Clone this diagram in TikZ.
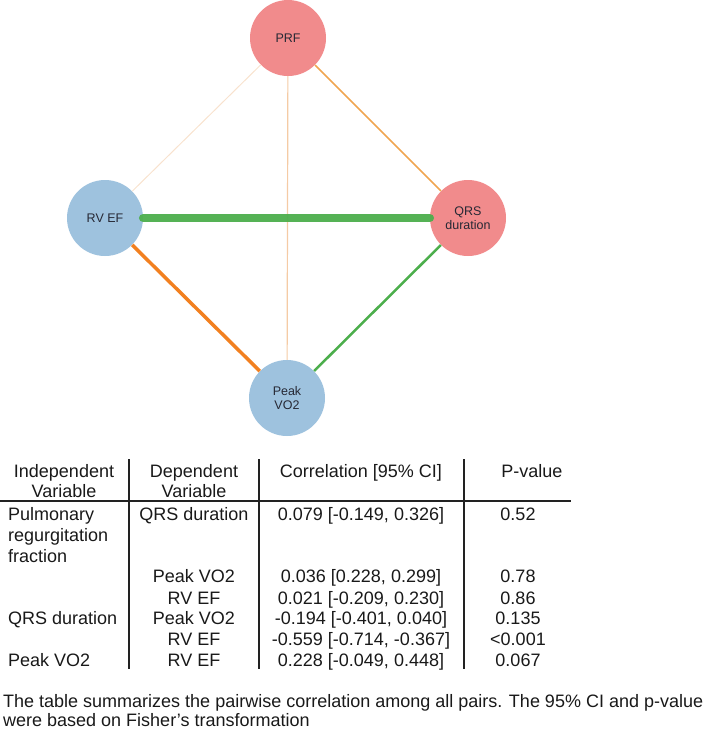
\documentclass[tikz,border=0pt]{standalone}
\usepackage{fontspec}
\setmainfont{Liberation Sans}
\definecolor{prfpink}{RGB}{241,139,140}
\definecolor{varblue}{RGB}{158,194,222}
\definecolor{labeltext}{RGB}{38,40,52}
\definecolor{corgreen}{RGB}{76,174,76}
\definecolor{corora}{RGB}{242,128,32}
\definecolor{midora}{RGB}{240,165,80}
\definecolor{paleora}{RGB}{245,203,165}
\definecolor{faintora}{RGB}{248,226,206}
\definecolor{rulegray}{RGB}{34,34,34}
\tikzset{var/.style={circle,minimum size=76pt,inner sep=0pt,text=labeltext,align=center,font=\fontsize{12.5}{14}\selectfont}}
\tikzset{cell/.style={anchor=base,inner sep=0pt,text=black!90,font=\fontsize{18}{20.8}\selectfont}}
\tikzset{rule/.style={line width=1.4pt,draw=rulegray}}

\begin{document}
\begin{tikzpicture}[x=1pt,y=-1pt]
\useasboundingbox (0,0) rectangle (709,732);
% variables
\node (prf) at (288,38) [var,fill=prfpink] {PRF};
\node (rvef) at (105,218) [var,fill=varblue] {RV EF};
\node (qrs) at (468,218) [var,fill=prfpink] {QRS\\duration};
\node (vo2) at (287,398) [var,fill=varblue] {Peak\\VO2};
% correlations
\draw[faintora,line width=1pt] (prf)--(rvef);
\draw[paleora,line width=1.2pt] (prf)--(vo2);
\draw[midora,line width=1.5pt] (prf)--(qrs);
\draw[corora,line width=3.5pt] (rvef)--(vo2);
\draw[corgreen,line width=2.5pt] (qrs)--(vo2);
\draw[corgreen,line width=8.5pt,line cap=round,opacity=0.95] (rvef)--(qrs);
% table
\coordinate (tl) at (0,501);
\coordinate (tr) at (571,501);
\draw[rule] (tl)--(tr);
\foreach \x [count=\k] in {129,259,464}{
  \coordinate (top\k) at (\x,459);
  \coordinate (bot\k) at (\x,669);
  \draw[rule] (top\k)--(bot\k);
}
\node (h1) at (64,477) [cell] {Independent};
\node (h1b) at (64,497) [cell] {Variable};
\node (h2) at (194,477) [cell] {Dependent};
\node (h2b) at (194,497) [cell] {Variable};
\node (h3) at (361,477) [cell] {Correlation [95\% CI]};
\node (h4) at (532,477) [cell] {P-value};
\node (i1) at (8,520) [cell,anchor=base west] {Pulmonary};
\node (i1b) at (8,541) [cell,anchor=base west] {regurgitation};
\node (i1c) at (8,562) [cell,anchor=base west] {fraction};
\node (i2) at (8,624) [cell,anchor=base west] {QRS duration};
\node (i3) at (8,666) [cell,anchor=base west] {Peak VO2};
\foreach \y/\dep/\cor/\p [count=\i] in {
  520/QRS duration/{0.079 [-0.149, 0.326]}/0.52,
  582/Peak VO2/{0.036 [0.228, 0.299]}/0.78,
  604/RV EF/{0.021 [-0.209, 0.230]}/0.86,
  624/Peak VO2/{-0.194 [-0.401, 0.040]}/0.135,
  645/RV EF/{-0.559 [-0.714, -0.367]}/<0.001,
  666/RV EF/{0.228 [-0.049, 0.448]}/0.067}{
  \node (d\i) at (194,\y) [cell] {\dep};
  \node (c\i) at (361,\y) [cell] {\cor};
  \node (p\i) at (518,\y) [cell] {\p};
}
% note
\node (note1) at (3,707) [cell,anchor=base west] {The table summarizes the pairwise correlation among all pairs. The 95\% CI and p-value};
\node (note2) at (3,726) [cell,anchor=base west] {were based on Fisher’s transformation};
\end{tikzpicture}
\end{document}
